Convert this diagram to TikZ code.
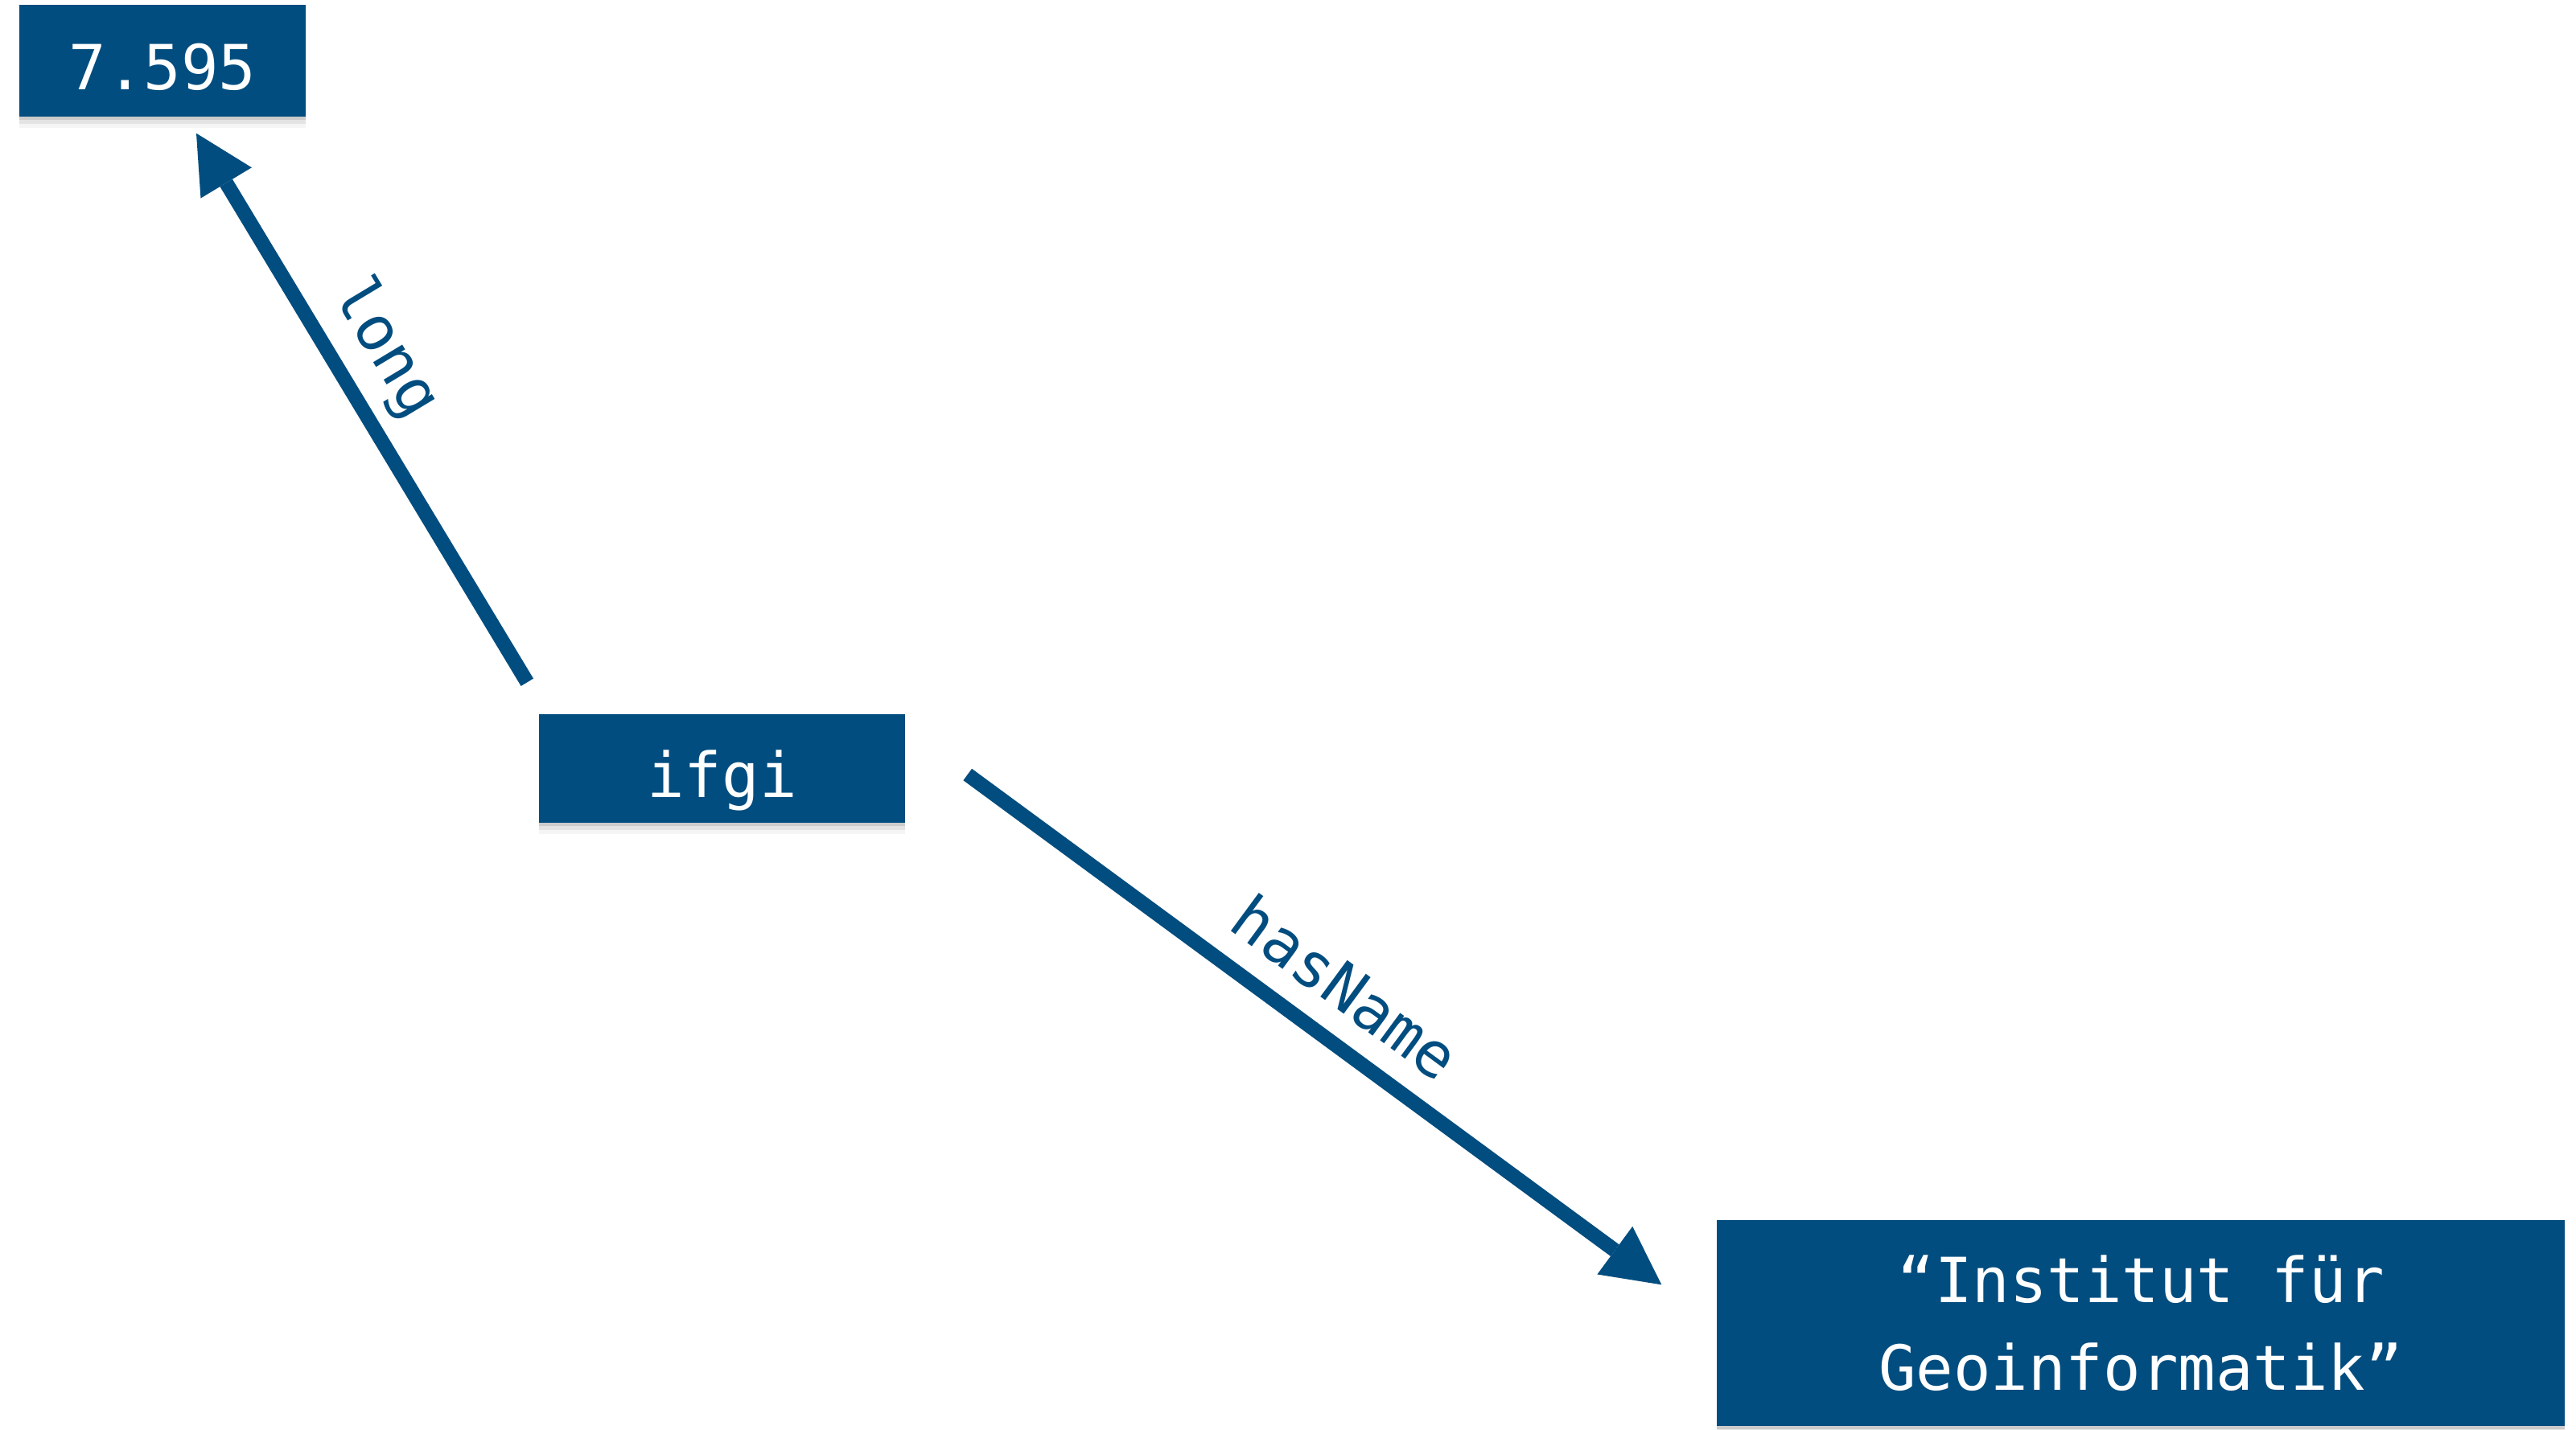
\documentclass[tikz,border=0pt]{standalone}
\usepackage{fontspec}
\setmonofont{DejaVu Sans Mono}
\usetikzlibrary{arrows.meta,shadows,calc}
\definecolor{ifgiblue}{RGB}{2,77,127}
\tikzset{
  softshadow/.style={
    general shadow={fill=black, fill opacity=0.10, shadow yshift=-0.04cm},
    general shadow={fill=black, fill opacity=0.07, shadow yshift=-0.09cm},
    general shadow={fill=black, fill opacity=0.04, shadow yshift=-0.14cm}},
  rdfbox/.style={draw=none, fill=ifgiblue, text=white,
    font=\ttfamily\fontsize{22}{31}\selectfont, inner sep=0pt, softshadow},
  onelinebox/.style={rdfbox, text height=0.72cm, text depth=0pt},
  rel/.style={line width=0.18cm, draw=ifgiblue,
    -{Triangle[length=0.72cm,width=0.74cm,line width=0pt]}},
  rellabel/.style={sloped, above, text=ifgiblue,
    font=\ttfamily\fontsize{22}{26}\selectfont, inner sep=0.28cm, text depth=0pt},
}
\begin{document}
\begin{tikzpicture}
\useasboundingbox[fill=white] (0,0) rectangle (32.02,-17.77);

\node[onelinebox, minimum width=3.56cm, minimum height=1.39cm] (lon) at (2.02,-0.755) {7.595};
\node[onelinebox, minimum width=4.55cm, minimum height=1.35cm] (ifgi) at (8.975,-9.555) {ifgi};
\node[rdfbox, minimum width=10.54cm, minimum height=2.56cm, align=center] (name) at (26.61,-16.45) {“Institut für\\Geoinformatik”};

\coordinate (longS) at ($(ifgi.north west)+(-0.14,0.39)$);
\coordinate (longE) at ($(lon.south)+(0.42,-0.20)$);
\coordinate (nameS) at ($(ifgi.east)+(0.77,-0.075)$);
\coordinate (nameE) at ($(name.north west)+(-0.68,-0.81)$);

\draw[rel] (longS) -- node[rellabel, pos=0.56, inner sep=0.32cm] {long} (longE);
\draw[rel] (nameS) -- node[rellabel, pos=0.5] {hasName} (nameE);
\end{tikzpicture}
\end{document}
